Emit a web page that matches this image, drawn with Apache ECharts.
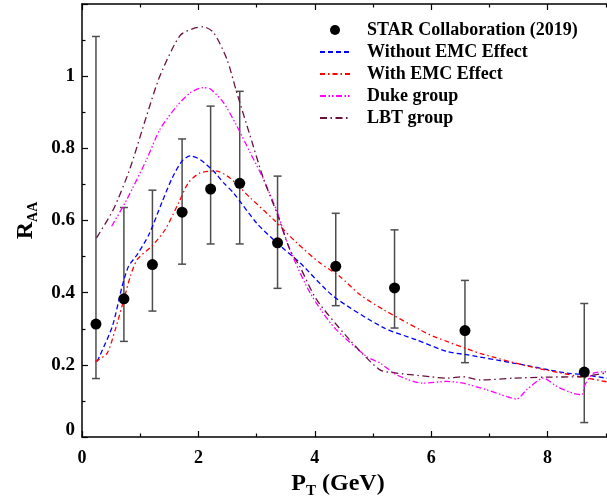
<!DOCTYPE html>
<html><head><meta charset="utf-8">
<script src="https://cdn.jsdelivr.net/npm/echarts@6/dist/echarts.min.js"></script>
<style>html,body{margin:0;padding:0;background:#fff}#c{width:607px;height:501px}</style>
</head><body><div id="c"></div>
<script>
// STAR Collaboration (2019) data points
const starX = [0.24, 0.72, 1.21, 1.72, 2.21, 2.71, 3.36, 4.36, 5.37, 6.58, 8.63];
const starY = [0.313, 0.383, 0.478, 0.623, 0.687, 0.703, 0.538, 0.473, 0.413, 0.295, 0.180];
const starLow = [0.162, 0.265, 0.349, 0.479, 0.535, 0.535, 0.412, 0.364, 0.302, 0.206, 0.040];
const starHigh = [1.110, 0.636, 0.684, 0.826, 0.917, 0.958, 0.723, 0.620, 0.574, 0.434, 0.370];

// Without EMC Effect
const noEmcX = [0.26, 0.52, 0.69, 0.80, 0.95, 1.15, 1.37, 1.55, 1.72, 1.86, 2.03, 2.26, 2.43, 2.60, 3.0, 3.35, 3.75, 4.32, 5.18, 5.75, 6.27, 6.61, 7.41, 8.33, 8.56, 9.05];
const noEmcY = [0.209, 0.306, 0.418, 0.473, 0.506, 0.561, 0.649, 0.718, 0.765, 0.779, 0.769, 0.737, 0.705, 0.677, 0.593, 0.538, 0.482, 0.390, 0.303, 0.269, 0.237, 0.228, 0.205, 0.177, 0.174, 0.162];

// With EMC Effect
const emcX = [0.23, 0.43, 0.57, 0.72, 0.83, 0.95, 1.20, 1.43, 1.66, 1.83, 2.03, 2.31, 2.54, 2.89, 3.29, 3.69, 4.09, 4.43, 4.78, 5.18, 5.81, 6.04, 6.84, 7.70, 8.56, 9.05];
const emcY = [0.209, 0.232, 0.297, 0.381, 0.445, 0.492, 0.529, 0.575, 0.649, 0.705, 0.732, 0.737, 0.718, 0.663, 0.603, 0.538, 0.482, 0.445, 0.394, 0.353, 0.297, 0.279, 0.232, 0.195, 0.167, 0.152];

// Duke group
const dukeX = [0.51, 0.77, 1.11, 1.34, 1.63, 1.86, 2.08, 2.20, 2.43, 2.66, 2.89, 3.12, 3.35, 3.57, 3.92, 4.32, 4.89, 5.12, 5.41, 5.86, 6.27, 6.55, 6.95, 7.30, 7.47, 7.64, 7.93, 8.16, 8.44, 8.59, 8.64, 8.79, 9.05];
const dukeY = [0.584, 0.658, 0.769, 0.853, 0.917, 0.954, 0.968, 0.965, 0.927, 0.862, 0.788, 0.714, 0.625, 0.520, 0.399, 0.306, 0.223, 0.205, 0.172, 0.149, 0.154, 0.149, 0.131, 0.112, 0.105, 0.131, 0.163, 0.140, 0.121, 0.117, 0.144, 0.177, 0.181];

// LBT group
const lbtX = [0.25, 0.54, 0.82, 1.11, 1.34, 1.68, 1.91, 2.08, 2.26, 2.49, 2.66, 2.89, 3.12, 3.35, 3.57, 3.75, 4.03, 4.60, 5.12, 5.41, 5.69, 5.98, 6.27, 6.55, 6.84, 7.41, 7.98, 8.56, 9.05];
const lbtY = [0.552, 0.631, 0.742, 0.890, 1.001, 1.112, 1.132, 1.137, 1.121, 1.047, 0.954, 0.834, 0.715, 0.620, 0.520, 0.470, 0.381, 0.269, 0.186, 0.177, 0.172, 0.167, 0.163, 0.167, 0.158, 0.163, 0.166, 0.167, 0.179];

const seriesNames = ['STAR Collaboration (2019)', 'Without EMC Effect', 'With EMC Effect', 'Duke group', 'LBT group'];

const F = 'Liberation Serif';
function pairs(xs, ys) { return xs.map((x, i) => [x, ys[i]]); }

const chart = echarts.init(document.getElementById('c'), null, { renderer: 'canvas' });

const tickStyle = { color: '#000', width: 1.2 };
const axisLineStyle = { color: '#000', width: 1.5 };

function lineSeries(name, xs, ys, color, dash, z) {
  return {
    name: name, type: 'line', data: pairs(xs, ys), symbol: 'none', smooth: 0.25,
    lineStyle: { color: color, width: 1.3, type: dash },
    itemStyle: { color: color }, z: z, silent: true
  };
}

const option = {
  animation: false,
  backgroundColor: '#fff',
  grid: { left: 82, top: 4, width: 582, height: 433, outerBoundsMode: 'none', containLabel: false },
  legend: {
    orient: 'vertical', left: 319, top: 21, padding: 0,
    itemWidth: 30, itemHeight: 10, itemGap: 4,
    textStyle: { fontFamily: F, fontWeight: 'bold', fontSize: 18, color: '#000', padding: [0, 0, 0, 12] },
    data: [
      { name: seriesNames[0], icon: 'circle', itemStyle: { color: '#000', opacity: 1 } },
      { name: seriesNames[1], itemStyle: { opacity: 0 } },
      { name: seriesNames[2], itemStyle: { opacity: 0 } },
      { name: seriesNames[3], itemStyle: { opacity: 0 } },
      { name: seriesNames[4], itemStyle: { opacity: 0 } }
    ]
  },
  xAxis: [{
    type: 'value', min: 0, max: 10, interval: 2, position: 'bottom',
    axisLine: { show: true, onZero: false, lineStyle: axisLineStyle },
    axisTick: { inside: true, length: 6, lineStyle: tickStyle },
    minorTick: { show: true, splitNumber: 2, length: 3.5, lineStyle: tickStyle },
    splitLine: { show: false }, minorSplitLine: { show: false },
    axisLabel: { fontFamily: F, fontWeight: 'bold', fontSize: 18, color: '#000', margin: 12, showMaxLabel: false },
    name: '{p|P}{s|T}{p| (GeV)}', nameLocation: 'middle', nameGap: 26,
    nameTextStyle: {
      padding: [0, 70, 0, 0],
      rich: {
        p: { fontFamily: F, fontWeight: 'bold', fontSize: 24, lineHeight: 30, color: '#000' },
        s: { fontFamily: F, fontWeight: 'bold', fontSize: 15, lineHeight: 15, verticalAlign: 'bottom', color: '#000' }
      }
    }
  }, {
    type: 'value', min: 0, max: 10, interval: 2, position: 'top',
    axisLine: { show: true, onZero: false, lineStyle: axisLineStyle },
    axisTick: { inside: true, length: 6, lineStyle: tickStyle },
    minorTick: { show: true, splitNumber: 2, length: 3.5, lineStyle: tickStyle },
    splitLine: { show: false }, minorSplitLine: { show: false },
    axisLabel: { show: false }
  }],
  yAxis: [{
    type: 'value', min: 0, max: 1.2, interval: 0.2, position: 'left',
    axisLine: { show: true, onZero: false, lineStyle: axisLineStyle },
    axisTick: { inside: true, length: 6, lineStyle: tickStyle },
    minorTick: { show: true, splitNumber: 2, length: 3.5, lineStyle: tickStyle },
    splitLine: { show: false }, minorSplitLine: { show: false },
    axisLabel: {
      fontFamily: F, fontWeight: 'bold', fontSize: 19, color: '#000', margin: 7, showMaxLabel: false,
      formatter: v => v === 0 ? '{z|0}' : String(v),
      rich: { z: { fontFamily: F, fontWeight: 'bold', fontSize: 19, color: '#000', padding: [0, 0, 14, 0] } }
    },
    name: '{r|R}{s|AA}', nameLocation: 'middle', nameRotate: 90, nameGap: 38,
    nameTextStyle: {
      rich: {
        r: { fontFamily: F, fontWeight: 'bold', fontSize: 24, lineHeight: 30, color: '#000' },
        s: { fontFamily: F, fontWeight: 'bold', fontSize: 14, lineHeight: 14, verticalAlign: 'bottom', color: '#000' }
      }
    }
  }],
  series: [
    {
      name: 'errorbars', type: 'custom', silent: true, z: 2,
      data: starX.map((x, i) => [x, starLow[i], starHigh[i]]),
      encode: { x: 0, y: [1, 2] },
      renderItem: function (params, api) {
        const x = api.value(0), lo = api.value(1), hi = api.value(2);
        const a = api.coord([x, lo]), b = api.coord([x, hi]);
        const st = { stroke: '#4d4d4d', lineWidth: 1.5 };
        return {
          type: 'group', children: [
            { type: 'line', shape: { x1: a[0], y1: a[1], x2: b[0], y2: b[1] }, style: st },
            { type: 'line', shape: { x1: a[0] - 4, y1: a[1], x2: a[0] + 4, y2: a[1] }, style: st },
            { type: 'line', shape: { x1: b[0] - 4, y1: b[1], x2: b[0] + 4, y2: b[1] }, style: st }
          ]
        };
      }
    },
    lineSeries(seriesNames[1], noEmcX, noEmcY, '#0000ff', [5, 3], 3),
    lineSeries(seriesNames[2], emcX, emcY, '#ff0000', [5, 3, 1.5, 3], 3),
    lineSeries(seriesNames[3], dukeX, dukeY, '#ff00ff', [6, 2.5, 1.5, 2, 1.5, 2.5], 3),
    lineSeries(seriesNames[4], lbtX, lbtY, '#6a1040', [7, 3.5, 1.5, 3.5], 3),
    {
      name: seriesNames[0], type: 'scatter', data: pairs(starX, starY),
      symbol: 'circle', symbolSize: 11, itemStyle: { color: '#000', opacity: 1 }, z: 6, silent: true
    }
  ]
};
chart.setOption(option);
</script>
</body></html>
